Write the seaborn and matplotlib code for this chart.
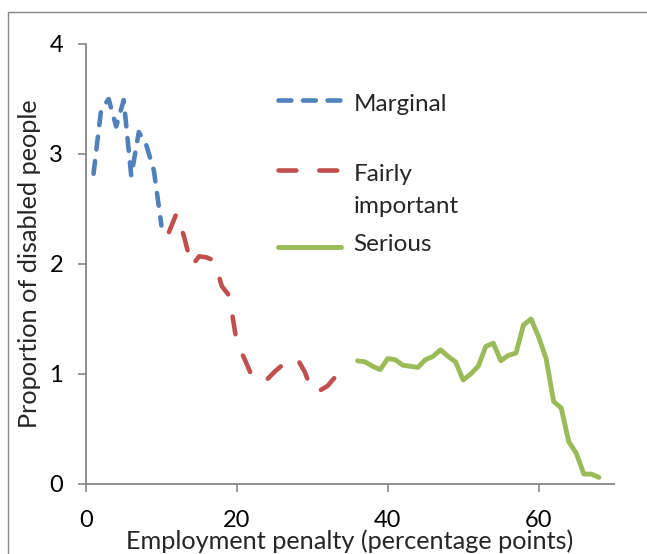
import numpy as np
import matplotlib
matplotlib.use("Agg")
import matplotlib.pyplot as plt
import seaborn as sns
from matplotlib.legend_handler import HandlerLine2D
from matplotlib.patches import Rectangle

# ---- data ----
marginal_x = list(range(1, 11))
marginal_y = [2.82, 3.40, 3.50, 3.25, 3.49, 2.80, 3.20, 3.08, 2.85, 2.35]

fairly_x = list(range(11, 35))
fairly_y = [2.29, 2.46, 2.25, 1.98, 2.07, 2.06, 2.03, 1.80, 1.71, 1.28, 1.14, 0.98,
            0.93, 0.95, 1.02, 1.08, 1.12, 1.14, 1.02, 0.84, 0.85, 0.89, 0.97, 1.01]

serious_x = list(range(36, 69))
serious_y = [1.12, 1.11, 1.07, 1.04, 1.14, 1.13, 1.08, 1.07, 1.06, 1.13, 1.16, 1.22,
             1.16, 1.11, 0.945, 1.00, 1.07, 1.25, 1.28, 1.12, 1.17, 1.19, 1.445, 1.50,
             1.34, 1.14, 0.75, 0.69, 0.385, 0.28, 0.09, 0.09, 0.06]

series_labels = ["Marginal\n", "Fairly\nimportant", "Serious"]
x_ticks = [0, 20, 40, 60]
y_ticks = [0, 1, 2, 3, 4]
x_label = "Employment penalty (percentage points)"
y_label = "Proportion of disabled people"

BLUE = "#4F81BD"
RED = "#C0504D"
GREEN = "#9BBB59"
GREY = "#868686"
FS = 17
FS_LAB = 18.2
FS_LEG = 17.5

sns.set_theme(style="white")
plt.rcParams['font.family'] = ['Lato', 'DejaVu Sans']

fig = plt.figure(figsize=(6.47, 5.54), dpi=100)
W, H = 647, 554
ax = fig.add_axes([86 / W, 1 - 484 / H, 528 / W, 440 / H])

sns.lineplot(x=marginal_x, y=marginal_y, ax=ax, color=BLUE, linewidth=3.3,
             linestyle=(0, (2.8, 2.55)))
l_blue = ax.lines[-1]
sns.lineplot(x=fairly_x, y=fairly_y, ax=ax, color=RED, linewidth=3.3,
             linestyle=(0, (3.9, 5.0)))
l_red = ax.lines[-1]
sns.lineplot(x=serious_x, y=serious_y, ax=ax, color=GREEN, linewidth=3.5)
l_green = ax.lines[-1]
for ln in (l_blue, l_red, l_green):
    ln.set_dash_capstyle('round')
    ln.set_solid_capstyle('round')
    ln.set_dash_joinstyle('round')
    ln.set_solid_joinstyle('round')

ax.set_xlim(0, 70)
ax.set_ylim(0, 4)
ax.set_xticks(x_ticks)
ax.set_yticks(y_ticks)
ax.tick_params(axis='both', which='major', direction='out', length=5.5, width=1.2,
               color=GREY, labelcolor='black', labelsize=FS, bottom=True, left=True)
ax.tick_params(axis='y', pad=11)
ax.tick_params(axis='x', pad=13)
for s in ('top', 'right'):
    ax.spines[s].set_visible(False)
for s in ('left', 'bottom'):
    ax.spines[s].set_color(GREY)
    ax.spines[s].set_linewidth(1.3)

ax.set_xlabel(x_label, fontsize=FS_LAB)
ax.set_ylabel(y_label, fontsize=FS_LAB)
ax.xaxis.set_label_coords(0.5, -0.103)
ax.yaxis.set_label_coords(-0.085, 0.5)


class ShiftedLine(HandlerLine2D):
    def __init__(self, shift=0.0, **kw):
        super().__init__(**kw)
        self.shift = shift

    def create_artists(self, legend, orig_handle, xdescent, ydescent, width, height,
                       fontsize, trans):
        arts = super().create_artists(legend, orig_handle, xdescent, ydescent, width,
                                      height, fontsize, trans)
        for a in arts:
            a.set_ydata(np.asarray(a.get_ydata(), float) + self.shift * fontsize)
        return arts


leg = ax.legend(handles=[l_blue, l_red, l_green], labels=series_labels,
                loc="upper left", bbox_to_anchor=(278 / W, 1 - 94 / H),
                bbox_transform=fig.transFigure, frameon=False, borderpad=0,
                borderaxespad=0, handlelength=2.6, handletextpad=0.5,
                labelspacing=0.68, fontsize=FS_LEG,
                handler_map={l_blue: ShiftedLine(0.85), l_red: ShiftedLine(0.85),
                             l_green: ShiftedLine(-0.2)})
for t in leg.get_texts():
    t.set_linespacing(1.66)

# outer chart frame
fig.patches.append(Rectangle((7.5 / W, -0.1), 1.2, 1.1 - 11.5 / H,
                             transform=fig.transFigure, fill=False,
                             edgecolor=GREY, linewidth=1.0))

fig.savefig("out.png", dpi=100)
